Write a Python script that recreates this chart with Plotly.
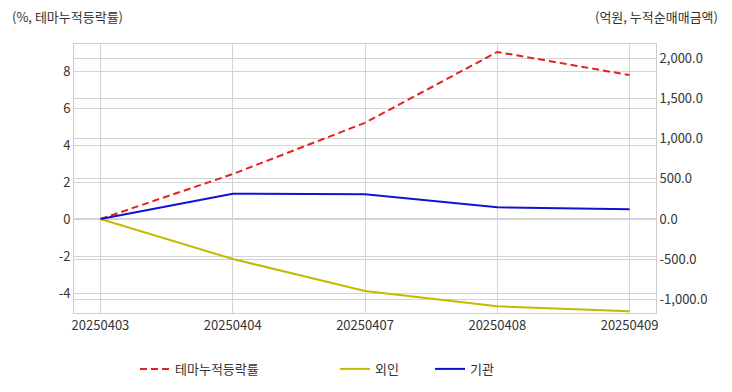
import plotly.graph_objects as go

dates = ["20250403", "20250404", "20250407", "20250408", "20250409"]
theme_rate = [0.0, 2.43, 5.2, 9.03, 7.78]
foreign = [0.0, -497.0, -895.0, -1084.0, -1145.0]
institution = [0.0, 314.0, 307.0, 145.0, 121.0]

left_ticks = [-4, -2, 0, 2, 4, 6, 8]
left_text = ["-4", "-2", "0", "2", "4", "6", "8"]
right_ticks = [-1000, -500, 0, 500, 1000, 1500, 2000]
right_text = ["-1,000.0", "-500.0", "0.0", "500.0", "1,000.0", "1,500.0", "2,000.0"]

FONT = "Noto Sans CJK KR, Noto Sans, sans-serif"
GRID = "#d4d4d4"

fig = go.Figure()
fig.add_trace(go.Scatter(x=dates, y=theme_rate, name="테마누적등락률", mode="lines",
                         line=dict(color="#e5211c", width=2, dash="7px,4px"),
                         yaxis="y", legend="legend", showlegend=True))
fig.add_trace(go.Scatter(x=dates, y=foreign, name="외인", mode="lines",
                         line=dict(color="#c4ba00", width=2),
                         yaxis="y2", legend="legend2", showlegend=True))
fig.add_trace(go.Scatter(x=dates, y=institution, name="기관", mode="lines",
                         line=dict(color="#1212d6", width=2),
                         yaxis="y2", legend="legend3", showlegend=True))

legend_common = dict(orientation="h", yanchor="middle", y=-0.208, xanchor="left",
                     font=dict(family=FONT, size=13, color="#333333"),
                     bgcolor="rgba(0,0,0,0)", borderwidth=0)

fig.update_layout(
    width=732, height=392,
    showlegend=True,
    margin=dict(l=74, r=76, t=44, b=79, autoexpand=False),
    paper_bgcolor="white", plot_bgcolor="white",
    font=dict(family=FONT, size=13, color="#333333"),
    xaxis=dict(type="category", range=[-0.2, 4.2], showgrid=True, gridcolor=GRID,
               showline=True, linecolor="#cccccc", linewidth=1, mirror=True,
               ticks="", tickfont=dict(size=13, color="#333333"), zeroline=False,
               automargin=False),
    yaxis=dict(range=[-5.08, 9.46], tickvals=left_ticks, ticktext=left_text,
               showgrid=True, gridcolor=GRID, zeroline=False,
               showline=True, linecolor="#cccccc", linewidth=1,
               tickfont=dict(size=13, color="#333333"), automargin=False),
    yaxis2=dict(range=[-1168, 2174], tickvals=right_ticks, ticktext=right_text,
                overlaying="y", side="right", showgrid=True, gridcolor=GRID,
                zeroline=False, showline=True, linecolor="#cccccc", linewidth=1,
                tickfont=dict(size=13, color="#333333"), automargin=False),
    legend=dict(x=(135 - 74) / 582, **legend_common),
    legend2=dict(x=(335 - 74) / 582, **legend_common),
    legend3=dict(x=(430 - 74) / 582, **legend_common),
    annotations=[
        dict(text="(%, 테마누적등락률)", xref="paper", yref="paper",
             x=-64 / 582, y=(313 - 16) / 269, xanchor="left", yanchor="middle",
             showarrow=False, font=dict(family=FONT, size=13, color="#333333")),
        dict(text="(억원, 누적순매매금액)", xref="paper", yref="paper",
             x=(720 - 74) / 582, y=(313 - 16) / 269, xanchor="right", yanchor="middle",
             showarrow=False, font=dict(family=FONT, size=13, color="#333333")),
    ],
)

fig.write_html("out.html",
               config={"displayModeBar": False},
               post_script="document.body.style.margin='0';document.body.style.overflow='hidden';")
